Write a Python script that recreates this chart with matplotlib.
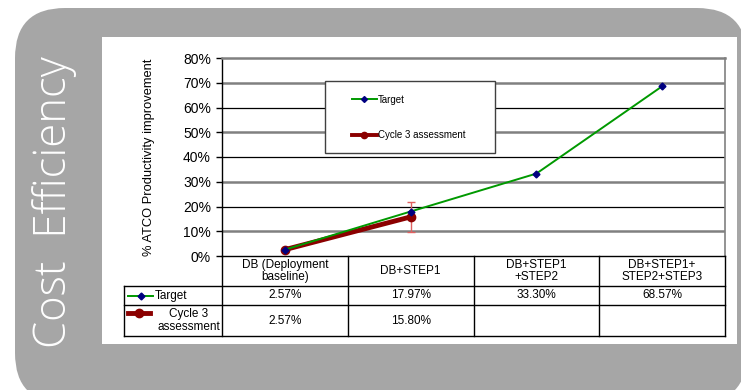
import matplotlib
matplotlib.use("Agg")
import matplotlib.pyplot as plt
from matplotlib.patches import FancyBboxPatch, Rectangle
from matplotlib.lines import Line2D

plt.rcParams['font.family'] = ['Liberation Sans', 'DejaVu Sans']

# --- dados ---
categorias = ["DB (Deployment\nbaseline)", "DB+STEP1", "DB+STEP1\n+STEP2", "DB+STEP1+\nSTEP2+STEP3"]
target = [2.57, 17.97, 33.30, 68.57]
cycle3 = [2.57, 15.80]
cycle3_err_baixo = [0, 6.2]
cycle3_err_alto = [0, 6.1]
target_txt = ["2.57%", "17.97%", "33.30%", "68.57%"]
cycle3_txt = ["2.57%", "15.80%", "", ""]
yticks = [0, 10, 20, 30, 40, 50, 60, 70, 80]

verde = "#009900"
azul = "#000080"
vermelho = "#8B0000"

W, H = 741, 390
fig = plt.figure(figsize=(W / 100, H / 100), dpi=100)

# --- fundo cinza com cantos arredondados + painel branco ---
bg = fig.add_axes([0, 0, 1, 1])
bg.set_xlim(0, W)
bg.set_ylim(H, 0)
bg.axis("off")
bg.add_patch(FancyBboxPatch((15, 8), 732, 395, boxstyle="round,pad=0,rounding_size=50",
                            fc="#A6A6A6", ec="none"))
bg.add_patch(Rectangle((102, 37), 635, 307, fc="white", ec="none"))
bg.text(55, 202, "Cost  Efficiency", rotation=90, color="white", fontsize=31.5,
        family="Open Sans", weight="light", ha="center", va="center")

# --- grafico principal ---
ax = fig.add_axes([222 / W, (H - 256) / H, 503 / W, 198 / H])
x = list(range(len(categorias)))

ax.errorbar(x[:2], cycle3, yerr=[cycle3_err_baixo, cycle3_err_alto], fmt="none",
            ecolor="#E06060", elinewidth=1, capsize=3, zorder=3)
l_target, = ax.plot(x, target, color=verde, lw=1.4, marker="D", ms=3.5,
                    mfc=azul, mec=azul, zorder=5)
l_cycle, = ax.plot(x[:2], cycle3, color=vermelho, lw=3.5, marker="o", ms=6,
                   zorder=4)

ax.set_xlim(-0.5, 3.5)
ax.set_ylim(0, 80)
ax.set_yticks(yticks)
ax.set_yticklabels([f"{v}%" for v in yticks], fontsize=10)
ax.set_xticks([])
ax.tick_params(axis="y", length=4, width=1, pad=4)
for v in yticks[1:-1]:
    if (v // 10) % 2 == 1:
        ax.axhline(v, color="#808080", lw=1.8, zorder=1)
    else:
        ax.axhline(v, color="black", lw=0.9, zorder=1)
ax.spines["top"].set_color("#808080")
ax.spines["top"].set_linewidth(1.8)
ax.spines["right"].set_color("#808080")
ax.spines["right"].set_linewidth(1.2)
ax.spines["left"].set_linewidth(1)
ax.spines["bottom"].set_linewidth(1)
ax.set_ylabel("% ATCO Productivity improvement", fontsize=9.3, labelpad=20)

# caixa da legenda
ax.add_patch(Rectangle((0.205, 0.52), 0.338, 0.364, transform=ax.transAxes,
                       fc="white", ec="#404040", lw=1, zorder=6))
h_target = Line2D([], [], color=verde, lw=1.4, marker="D", ms=3, mfc=azul, mec=azul)
h_cycle = Line2D([], [], color=vermelho, lw=2.8, marker="o", ms=4.5)
leg = ax.legend([h_target, h_cycle], ["Target", "Cycle 3 assessment"],
                loc="upper left", bbox_to_anchor=(0.258, 0.815), frameon=False,
                fontsize=7, handlelength=2.6, handletextpad=0.1, labelspacing=2.6,
                borderpad=0, borderaxespad=0)
leg.set_zorder(7)

# --- tabela de dados ---
px = lambda p: -0.5 + (p - 222) / 125.75
tb = fig.add_axes([124 / W, (H - 336) / H, 601 / W, 80 / H])
tb.set_xlim(px(124), 3.5)
tb.set_ylim(80, 0)
tb.axis("off")

esq = px(124)
for xv in [-0.5, 0.5, 1.5, 2.5, 3.5]:
    tb.plot([xv, xv], [0, 80], color="black", lw=1, clip_on=False)
tb.plot([esq, esq], [30, 80], color="black", lw=1, clip_on=False)
for yv in [30, 49, 80]:
    tb.plot([esq, 3.5], [yv, yv], color="black", lw=1, clip_on=False)

for i, cat in enumerate(categorias):
    tb.text(i, 15, cat, ha="center", va="center", fontsize=8.5, linespacing=1.0)
    tb.text(i, 39.5, target_txt[i], ha="center", va="center", fontsize=8.5)
    tb.text(i, 64.5, cycle3_txt[i], ha="center", va="center", fontsize=8.5)

tb.add_line(Line2D([px(128), px(153)], [39.5, 39.5], color=verde, lw=1.4))
tb.plot([px(140.5)], [39.5], marker="D", ms=3.5, color=azul)
tb.text(px(155), 39.5, "Target", ha="left", va="center", fontsize=8.5)
tb.add_line(Line2D([px(128), px(150)], [57, 57], color=vermelho, lw=3.5))
tb.plot([px(139)], [57], marker="o", ms=6, color=vermelho)
tb.text(px(220), 64.5, "Cycle 3\nassessment", ha="right", va="center",
        multialignment="center", fontsize=8.5, linespacing=1.0)

fig.savefig("out.png", dpi=100)
